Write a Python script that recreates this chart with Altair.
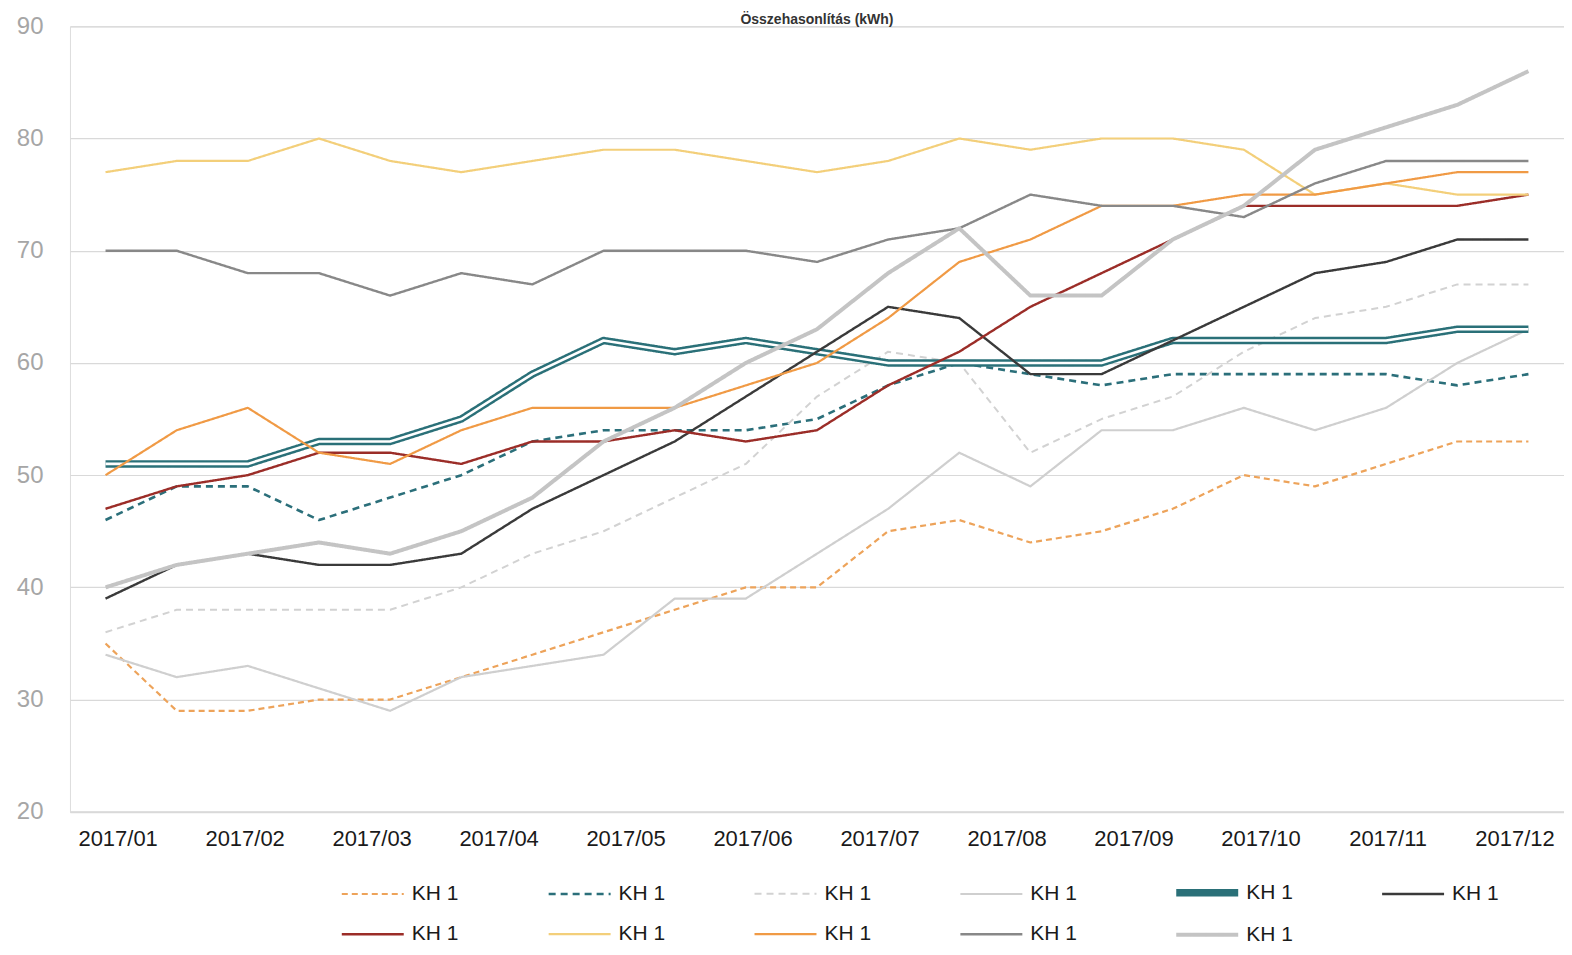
import json
import altair as alt
import pandas as pd

# ---- data ----
SERIES = ["s01", "s02", "s03", "s04", "s05", "s06", "s07", "s08", "s09", "s10", "s11"]
LEGEND_LABEL = "KH 1"
MONTH_LABELS = ["2017/01", "2017/02", "2017/03", "2017/04", "2017/05", "2017/06",
                "2017/07", "2017/08", "2017/09", "2017/10", "2017/11", "2017/12"]

s01 = [35, 29, 29, 30, 30, 32, 34, 36, 38, 40, 40, 45, 46, 44, 45, 47, 50, 49, 51, 53, 53]
s02 = [46, 49, 49, 46, 48, 50, 53, 54, 54, 54, 55, 58, 60, 59, 58, 59, 59, 59, 59, 58, 59]
s03 = [36, 38, 38, 38, 38, 40, 43, 45, 48, 51, 57, 61, 60, 52, 55, 57, 61, 64, 65, 67, 67]
s04 = [34, 32, 33, 31, 29, 32, 33, 34, 39, 39, 43, 47, 52, 49, 54, 54, 56, 54, 56, 60, 63]
s05 = [51, 51, 51, 53, 53, 55, 59, 62, 61, 62, 61, 60, 60, 60, 60, 62, 62, 62, 62, 63, 63]
s06 = [39, 42, 43, 42, 42, 43, 47, 50, 53, 57, 61, 65, 64, 59, 59, 62, 65, 68, 69, 71, 71]
s07 = [47, 49, 50, 52, 52, 51, 53, 53, 54, 53, 54, 58, 61, 65, 68, 71, 74, 74, 74, 74, 75]
s08 = [77, 78, 78, 80, 78, 77, 78, 79, 79, 78, 77, 78, 80, 79, 80, 80, 79, 75, 76, 75, 75]
s09 = [50, 54, 56, 52, 51, 54, 56, 56, 56, 58, 60, 64, 69, 71, 74, 74, 75, 75, 76, 77, 77]
s10 = [70, 70, 68, 68, 66, 68, 67, 70, 70, 70, 69, 71, 72, 75, 74, 74, 73, 76, 78, 78, 78]
s11 = [40, 42, 43, 44, 43, 45, 48, 53, 56, 60, 63, 68, 72, 66, 66, 71, 74, 79, 81, 83, 86]

VALUES = [s01, s02, s03, s04, s05, s06, s07, s08, s09, s10, s11]

# ---- styles ----
COLORS = ["#eda35a", "#2b6f7a", "#d2d2d2", "#cfcfcf", "#2a7078", "#3a3a3a",
          "#9b2d28", "#f3cf7a", "#f09a45", "#888888", "#c4c4c4"]
DASHES = [[6, 4], [7, 5], [7, 5], [1, 0], [1, 0], [1, 0],
          [1, 0], [1, 0], [1, 0], [1, 0], [1, 0]]
WIDTHS = [2.2, 2.6, 2.0, 2.2, 7.5, 2.4, 2.4, 2.2, 2.2, 2.4, 4]

rows = []
for k, (name, vals) in enumerate(zip(SERIES, VALUES)):
    for i, v in enumerate(vals):
        rows.append({"series": name, "idx": i, "value": v, "order": k + 1})
df = pd.DataFrame(rows)

n_points = len(s01)
# month label tick positions along the category axis
tick_start = 0.17
tick_step = 1.785
tick_vals = [round(tick_start + tick_step * i, 3) for i in range(len(MONTH_LABELS))]
label_expr = json.dumps(MONTH_LABELS) + f"[round((datum.value - {tick_start}) / {tick_step})]"

FONT = "Liberation Sans"

x_enc = alt.X(
    "idx:Q",
    scale=alt.Scale(domain=[-0.5, n_points - 0.5], nice=False, zero=False),
    axis=alt.Axis(values=tick_vals, labelExpr=label_expr, title=None, grid=False,
                  ticks=False, domain=True, domainColor="#d9d9d9", domainWidth=2,
                  labelFontSize=22, labelColor="#1a1a1a", labelFont=FONT,
                  labelPadding=17, labelFlush=False, labelOverlap=False),
)
y_enc = alt.Y(
    "value:Q",
    scale=alt.Scale(domain=[20, 90], nice=False, zero=False),
    axis=alt.Axis(values=list(range(20, 91, 10)), title=None, ticks=False, domain=False,
                  gridColor="#d9d9d9", gridWidth=1.2, labelFontSize=24,
                  labelColor="#a6a6a6", labelFont=FONT, labelPadding=27),
)

legend = alt.Legend(
    title=None, orient="none", legendX=289, legendY=853, direction="horizontal",
    columns=6, symbolType="M-3.1,0H3.1", symbolSize=400, labelExpr=f"'{LEGEND_LABEL}'",
    labelFontSize=21, labelFont=FONT, labelColor="#1a1a1a", labelOffset=25,
    columnPadding=84, rowPadding=15, symbolLimit=0,
)

color = alt.Color("series:N", scale=alt.Scale(domain=SERIES, range=COLORS), legend=legend)
dash = alt.StrokeDash("series:N", scale=alt.Scale(domain=SERIES, range=DASHES), legend=legend)
width = alt.StrokeWidth("series:N", scale=alt.Scale(type="ordinal", domain=SERIES, range=WIDTHS),
                        legend=legend)

base = alt.Chart(df)

lower = base.transform_filter("datum.order <= 5").mark_line(strokeJoin="round").encode(
    x=x_enc, y=y_enc, color=color, strokeDash=dash, strokeWidth=width,
    detail="series:N", order=alt.Order("idx:Q"))

inner = base.transform_filter("datum.order == 5").mark_line(
    color="white", strokeWidth=2.6, strokeJoin="round").encode(
    x=x_enc, y=y_enc, detail="series:N", order=alt.Order("idx:Q"))

upper = base.transform_filter("datum.order >= 6").mark_line(strokeJoin="round").encode(
    x=x_enc, y=y_enc, color=color, strokeDash=dash, strokeWidth=width,
    detail="series:N", order=alt.Order("idx:Q"))

chart = alt.layer(lower, inner, upper).properties(
    width=1495, height=786,
    title=alt.TitleParams("Összehasonlítás (kWh)", fontSize=14, font=FONT,
                          color="#333333", fontWeight="bold", offset=0, dy=13,
                          anchor="middle"),
    autosize=alt.AutoSizeParams(type="none"),
    padding={"left": 62, "top": 18, "right": 0, "bottom": 135},
).configure_view(stroke=None).configure_axisY(domain=False).configure(background="white")

chart.save("out.html", embed_options={"renderer": "svg", "actions": False})
